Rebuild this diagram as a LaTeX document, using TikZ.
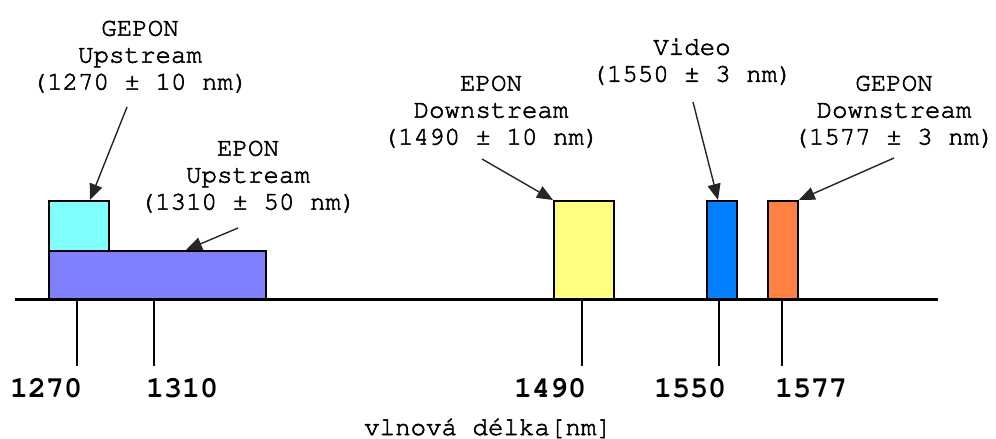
\documentclass[tikz,border=0pt]{standalone}
\usepackage[T1]{fontenc}
\renewcommand{\ttdefault}{pcr}
\usetikzlibrary{arrows.meta}
\definecolor{cCyan}{HTML}{80FFFF}
\definecolor{cPurple}{HTML}{8080FF}
\definecolor{cYellow}{HTML}{FFFF80}
\definecolor{cBlue}{HTML}{0080FF}
\definecolor{cOrange}{HTML}{FF8040}
\newcommand{\heavytext}{\special{pdf:literal direct 2 Tr}}
\newcommand{\plaintext}{\special{pdf:literal direct 0 Tr}}
\begin{document}
\begin{tikzpicture}[x=1pt,y=-1pt,
  lbl/.style={font=\ttfamily\fontsize{25.8}{27}\selectfont, align=center, inner sep=0pt, line width=0.55pt},
  num/.style={font=\ttfamily\bfseries\fontsize{30}{32}\selectfont, inner sep=0pt, anchor=base},
  band/.style={draw=black, line width=1.8pt, inner sep=0pt, anchor=north west},
  ptr/.style={draw=black!85, line width=1.4pt, -{Triangle[length=16pt,width=13pt]}},
  tickline/.style={line width=2.5pt}
]
\useasboundingbox (0,0) rectangle (996,439);
\fill[white] (0,0) rectangle (996,439);
% bands
\node[band, fill=cCyan, minimum width=60pt, minimum height=50pt] (cyan) at (48,200) {};
\node[band, fill=cPurple, minimum width=217pt, minimum height=49pt] (purple) at (48,250) {};
\node[band, fill=cYellow, minimum width=60pt, minimum height=99pt] (yellow) at (553,200) {};
\node[band, fill=cBlue, minimum width=30pt, minimum height=99pt] (blue) at (706,200) {};
\node[band, fill=cOrange, minimum width=30pt, minimum height=99pt] (orange) at (767,200) {};
% axis
\coordinate (axL) at (15,299);
\coordinate (axR) at (938,299);
\draw[line width=3pt] (axL) -- (axR);
% ticks
\foreach \x in {77,154,582,719,782} \draw[tickline] (\x,299) -- (\x,366);
% tick labels
\node[num] (n1270) at (46,397) {1270};
\node[num] (n1310) at (182,397) {1310};
\node[num] (n1490) at (550,397) {1490};
\node[num] (n1550) at (690,397) {1550};
\node[num] (n1577) at (811,397) {1577};
% axis title
\node[lbl, anchor=base] (title) at (488,435) {\heavytext vlnov\'a d\'elka[nm]\plaintext};
% labels
\node[lbl, anchor=north] (gul) at (140,20) {\heavytext GEPON\\\heavytext Upstream\\\heavytext(1270 \textpm{} 10 nm)\plaintext};
\node[lbl, anchor=north] (eul) at (248,140) {\heavytext EPON\\\heavytext Upstream\\\heavytext(1310 \textpm{} 50 nm)\plaintext};
\node[lbl, anchor=north] (edl) at (491,75) {\heavytext EPON\\\heavytext Downstream\\\heavytext(1490 \textpm{} 10 nm)\plaintext};
\node[lbl, anchor=north] (vl) at (692,38) {\heavytext Video\\\heavytext(1550 \textpm{} 3 nm)\plaintext};
\node[lbl, anchor=north] (gdl) at (894,75) {\heavytext GEPON\\\heavytext Downstream\\\heavytext(1577 \textpm{} 3 nm)\plaintext};
% arrow tails
\coordinate (tGU) at (127,107);
\coordinate (tEU) at (238,228);
\coordinate (tED) at (482,159);
\coordinate (tV) at (693,102);
\coordinate (tGD) at (894,158);
% arrows
\draw[ptr] (tGU) -- ([xshift=42pt]cyan.north west);
\draw[ptr] (tEU) -- ([xshift=138pt]purple.north west);
\draw[ptr] (tED) -- (yellow.north west);
\draw[ptr] (tV) -- ([xshift=12pt]blue.north west);
\draw[ptr] (tGD) -- (orange.north east);
\end{tikzpicture}
\end{document}
